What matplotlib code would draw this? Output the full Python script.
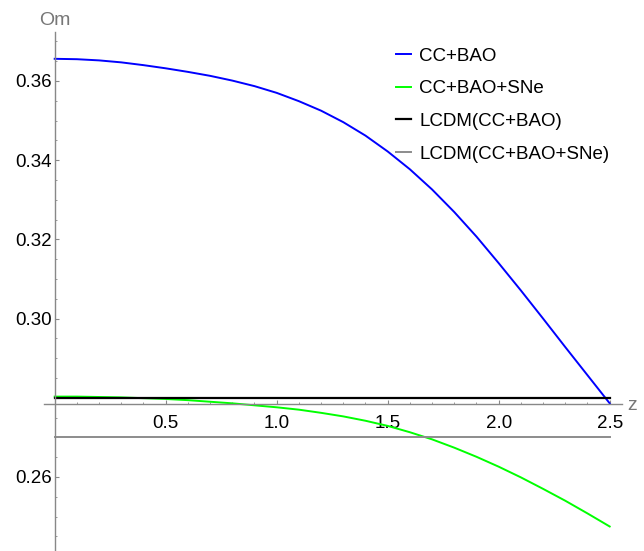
import matplotlib
matplotlib.use("Agg")
import matplotlib.pyplot as plt
from matplotlib.ticker import MultipleLocator, FixedLocator, FixedFormatter

plt.rcParams["font.family"] = ["Liberation Sans", "DejaVu Sans"]

# reconstructed Om(z) curves
z = [0.0, 0.1, 0.2, 0.3, 0.4, 0.5, 0.6, 0.7, 0.8, 0.9, 1.0, 1.1, 1.2,
     1.3, 1.4, 1.5, 1.6, 1.7, 1.8, 1.9, 2.0, 2.1, 2.2, 2.3, 2.4, 2.5]
om_cc_bao = [0.3656, 0.3655, 0.3652, 0.3647, 0.3640, 0.3632, 0.3623, 0.3613,
             0.3601, 0.3587, 0.3570, 0.3549, 0.3525, 0.3496, 0.3462, 0.3422,
             0.3377, 0.3326, 0.3269, 0.3207, 0.3140, 0.3071, 0.3000, 0.2928,
             0.2857, 0.2786]
om_cc_bao_sne = [0.2803, 0.2803, 0.2802, 0.2801, 0.2799, 0.2797, 0.2794, 0.2790,
                 0.2786, 0.2781, 0.2776, 0.2770, 0.2762, 0.2753, 0.2742, 0.2729,
                 0.2713, 0.2695, 0.2674, 0.2651, 0.2626, 0.2599, 0.2570, 0.2540,
                 0.2508, 0.2475]
z_lcdm = [0.0, 2.5]
om_lcdm_cc_bao = [0.28, 0.28]
om_lcdm_cc_bao_sne = [0.27, 0.27]

labels = ["CC+BAO", "CC+BAO+SNe", "LCDM(CC+BAO)", "LCDM(CC+BAO+SNe)"]
colors = ["#0000ff", "#00ff00", "#000000", "#8c8c8c"]

y_ticks = [0.26, 0.28, 0.30, 0.32, 0.34, 0.36]
y_ticklabels = ["0.26", "", "0.30", "0.32", "0.34", "0.36"]
x_ticks = [0.5, 1.0, 1.5, 2.0, 2.5]
x_ticklabels = ["0.5", "1.0", "1.5", "2.0", "2.5"]
axis_origin = 0.2785

W, H = 644, 551
fig = plt.figure(figsize=(W / 100, H / 100), dpi=100)
ax = fig.add_axes([43.6 / W, 0.0, 578.3 / W, 519 / H])
ax.set_xlim(-0.05, 2.555)
ax.set_ylim(0.24131, 0.37237)

ax.plot(z, om_cc_bao, color=colors[0], lw=1.4, label=labels[0])
ax.plot(z, om_cc_bao_sne, color=colors[1], lw=1.4, label=labels[1])
ax.plot(z_lcdm, om_lcdm_cc_bao, color=colors[2], lw=1.6, label=labels[2])
ax.plot(z_lcdm, om_lcdm_cc_bao_sne, color=colors[3], lw=1.4, label=labels[3])

axis_grey = "#888888"
for side in ("top", "right"):
    ax.spines[side].set_visible(False)
ax.spines["left"].set_position(("data", 0.0))
ax.spines["bottom"].set_position(("data", axis_origin))
for side in ("left", "bottom"):
    ax.spines[side].set_color(axis_grey)
    ax.spines[side].set_linewidth(1.0)

ax.xaxis.set_major_locator(FixedLocator(x_ticks))
ax.xaxis.set_major_formatter(FixedFormatter(x_ticklabels))
ax.xaxis.set_minor_locator(MultipleLocator(0.1))
ax.yaxis.set_major_locator(FixedLocator(y_ticks))
ax.yaxis.set_major_formatter(FixedFormatter(y_ticklabels))
ax.yaxis.set_minor_locator(MultipleLocator(0.005))
ax.tick_params(which="both", direction="in", color=axis_grey, labelsize=13.5,
               labelcolor="black")
ax.tick_params(which="major", length=3.0, width=0.8)
ax.tick_params(which="minor", length=1.6, width=0.6)
ax.tick_params(axis="x", which="major", pad=8)
ax.tick_params(axis="y", which="major", pad=2)

ax.annotate("Om", xy=(0.0, 0.37237), xytext=(0, 5), textcoords="offset points",
            ha="center", va="baseline", fontsize=14, color="#777777",
            annotation_clip=False)
ax.annotate("z", xy=(2.555, axis_origin), xytext=(4, -1.5), textcoords="offset points",
            ha="left", va="center", fontsize=14, color="#777777",
            annotation_clip=False)

ax.legend(loc="upper left", bbox_to_anchor=(396 / W, 1 - 47.5 / H),
          bbox_transform=fig.transFigure, frameon=False, fontsize=13.5,
          handlelength=0.8, handletextpad=0.45, labelspacing=0.83,
          borderpad=0.0, borderaxespad=0.0)

fig.savefig("out.png", dpi=100)
